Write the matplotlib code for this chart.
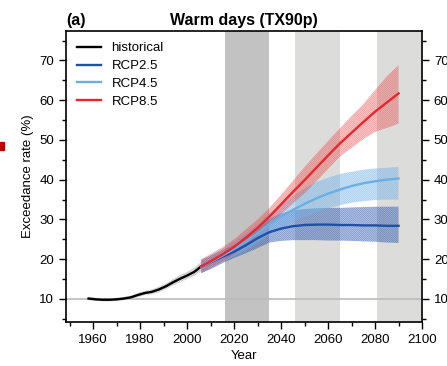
import numpy as np
import matplotlib
matplotlib.use("Agg")
import matplotlib.pyplot as plt
from matplotlib.patches import Rectangle

plt.rcParams['font.family'] = ['Liberation Sans', 'DejaVu Sans']
plt.rcParams['hatch.linewidth'] = 0.5

# historical run
hist_years = [1958, 1961, 1964, 1967, 1970, 1973, 1976, 1979, 1982, 1985,
              1988, 1991, 1994, 1997, 2000, 2003, 2006]
hist_mean = [10.1, 9.9, 9.8, 9.8, 9.9, 10.1, 10.4, 11.0, 11.5, 11.8,
             12.4, 13.2, 14.2, 15.1, 15.9, 16.8, 18.2]
hist_lo = [9.7, 9.5, 9.4, 9.4, 9.5, 9.7, 10.0, 10.5, 11.0, 11.2,
           11.7, 12.5, 13.4, 14.2, 15.0, 15.8, 17.0]
hist_hi = [10.5, 10.3, 10.2, 10.2, 10.3, 10.5, 10.8, 11.5, 12.0, 12.4,
           13.1, 13.9, 15.0, 16.0, 16.8, 17.8, 19.4]

# scenario runs
scen_years = [2006, 2010, 2015, 2020, 2025, 2030, 2035, 2040, 2045, 2050,
              2055, 2060, 2065, 2070, 2075, 2080, 2085, 2090]

rcp26_mean = [18.1, 19.2, 20.6, 21.9, 23.5, 25.3, 26.8, 27.7, 28.3, 28.6,
              28.7, 28.7, 28.6, 28.6, 28.5, 28.5, 28.4, 28.4]
rcp26_lo = [16.5, 17.5, 19.0, 20.3, 21.5, 22.8, 24.2, 24.6, 24.8, 24.8,
            24.8, 24.7, 24.7, 24.6, 24.5, 24.4, 24.2, 24.1]
rcp26_hi = [19.8, 20.8, 22.3, 23.6, 25.4, 27.7, 30.2, 31.5, 32.3, 32.6,
            32.8, 32.9, 32.9, 33.0, 33.1, 33.2, 33.2, 33.2]

rcp45_mean = [18.1, 19.3, 20.9, 22.6, 24.4, 26.5, 28.8, 30.8, 32.4, 33.9,
              35.3, 36.5, 37.5, 38.4, 39.1, 39.6, 40.0, 40.3]
rcp45_lo = [16.5, 17.7, 19.2, 20.8, 22.3, 24.2, 26.2, 27.9, 29.4, 30.7,
            31.8, 32.8, 33.6, 34.2, 34.6, 34.9, 35.0, 35.0]
rcp45_hi = [19.8, 21.0, 22.6, 24.4, 26.4, 28.8, 31.5, 33.8, 35.9, 37.8,
            39.4, 40.5, 41.4, 42.0, 42.5, 42.8, 43.0, 43.2]

rcp85_mean = [18.2, 19.5, 21.2, 23.1, 25.4, 27.9, 30.7, 33.8, 36.9, 39.9,
              43.0, 46.1, 49.1, 51.8, 54.5, 57.1, 59.4, 61.7]
rcp85_lo = [16.5, 17.8, 19.4, 21.3, 23.5, 26.0, 28.6, 31.3, 34.0, 36.6,
            39.6, 42.7, 45.8, 48.0, 50.2, 52.0, 53.0, 54.1]
rcp85_hi = [20.0, 21.3, 23.0, 25.0, 27.5, 30.0, 32.9, 36.2, 39.7, 43.2,
            46.5, 49.7, 52.9, 56.0, 59.0, 62.5, 66.0, 68.8]

# time slices shaded in the background
periods = [(2016, 2035), (2046, 2065), (2081, 2100)]
period_colors = ['#c1c2c1', '#dcdddb', '#dcdddb']

fig = plt.figure(figsize=(4.47, 3.66), dpi=100)
ax = fig.add_axes([0.1477, 0.1202, 0.7964, 0.7951])

for (p0, p1), pc in zip(periods, period_colors):
    ax.axvspan(p0, p1, color=pc, lw=0, zorder=0)
ax.axhline(10, color='#bbbbbb', lw=1.2, zorder=1)

# spread bands (densely hatched)
hatch = '\\' * 16
ax.fill_between(hist_years, hist_lo, hist_hi, facecolor='#dddddd', alpha=0.5,
                edgecolor='none', lw=0, zorder=2)
ax.fill_between(hist_years, hist_lo, hist_hi, facecolor='none',
                edgecolor='#b8b8b8', hatch=hatch, lw=0, zorder=2)
bands = [(rcp26_lo, rcp26_hi, '#2a56b0', 0.3, 0.5),
         (rcp45_lo, rcp45_hi, '#72b2ea', 0.3, 0.5),
         (rcp85_lo, rcp85_hi, '#ee3b3b', 0.22, 0.4)]
for lo, hi, bc, fa, ha in bands:
    ax.fill_between(scen_years, lo, hi, facecolor=bc, alpha=fa, lw=0, zorder=2)
    ax.fill_between(scen_years, lo, hi, facecolor='none', edgecolor=bc,
                    hatch=hatch, lw=0, alpha=ha, zorder=2)

ax.plot(hist_years, hist_mean, color='black', lw=1.7, label='historical', zorder=4)
ax.plot(scen_years, rcp26_mean, color='#1f4fa8', lw=1.7, label='RCP2.5', zorder=4)
ax.plot(scen_years, rcp45_mean, color='#6aaee6', lw=1.7, label='RCP4.5', zorder=4)
ax.plot(scen_years, rcp85_mean, color='#e8262b', lw=1.7, label='RCP8.5', zorder=4)

ax.set_xlim(1948.4, 2100)
ax.set_ylim(4.2, 77.4)
ax.set_xticks(np.arange(1960, 2101, 20))
ax.set_xticks(np.arange(1950, 2101, 10), minor=True)
ax.set_yticks(np.arange(10, 71, 10))
ax.set_yticks(np.arange(5, 76, 5), minor=True)
ax.tick_params(which='both', direction='out', labelsize=9.5, right=True,
               labelright=True, width=1)
ax.tick_params(which='major', length=5)
ax.tick_params(which='minor', length=3)
for s in ax.spines.values():
    s.set_linewidth(1.2)

ax.set_xlabel('Year', fontsize=9.5, labelpad=3)
ax.set_ylabel('Exceedance rate (%)', fontsize=9.5, labelpad=4)
ax.set_title('Warm days (TX90p)', fontsize=11.5, fontweight='bold', pad=4)
ax.text(0.0, 1.012, '(a)', transform=ax.transAxes, fontsize=11.5,
        fontweight='bold', ha='left', va='bottom')

ax.legend(loc='upper left', frameon=False, fontsize=9.5, handlelength=1.8,
          labelspacing=0.42, borderaxespad=0.45, handletextpad=0.8)

# small red marker at the left edge of the image
fig.patches.append(Rectangle((0, 1 - 150 / 366), 4 / 447, 8 / 366,
                             transform=fig.transFigure, color='#c00000'))

fig.savefig('out.png', dpi=100)
